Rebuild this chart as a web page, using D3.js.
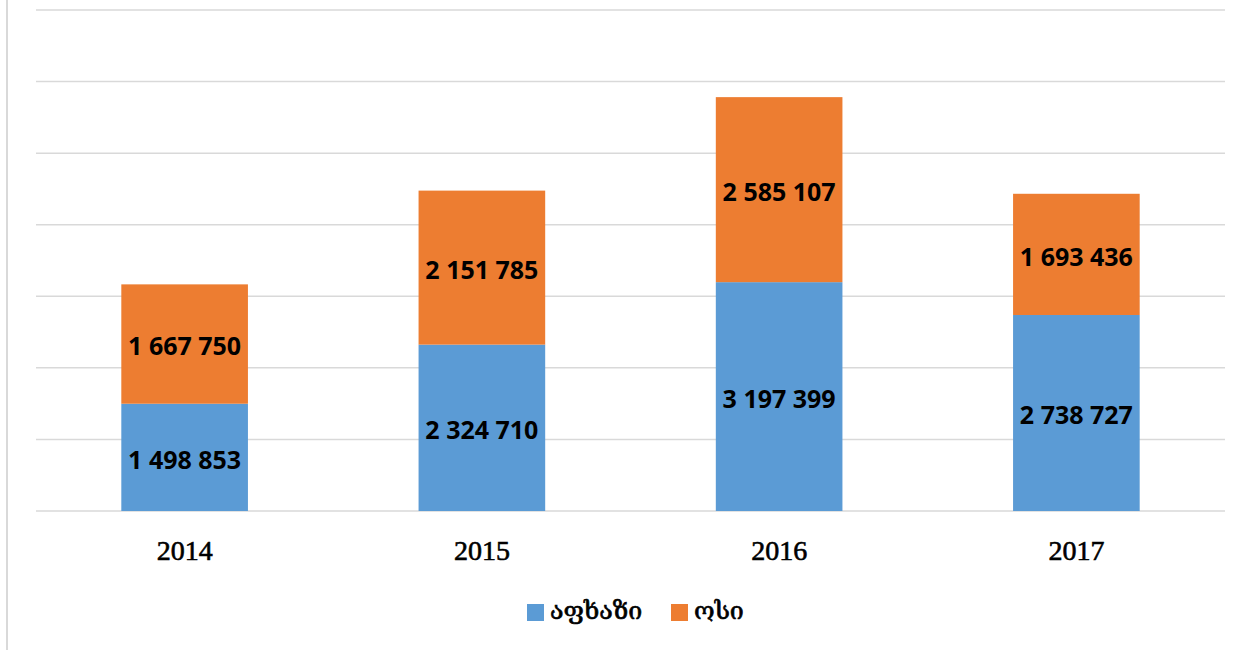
<!DOCTYPE html>
<html>
<head>
    <meta charset="utf-8">
    <title>stacked bars</title>
    <script src="https://d3js.org/d3.v7.min.js"></script>
    <style>
        body { margin: 0; background: #fff; }
    </style>
</head>
<body>
<script>
    // data
    var years = ["2014", "2015", "2016", "2017"];
    var abkhaz = [1498853, 2324710, 3197399, 2738727];
    var ossetian = [1667750, 2151785, 2585107, 1693436];
    var seriesNames = ["აფხაზი", "ოსი"];
    var gridTicks = [0, 1e6, 2e6, 3e6, 4e6, 5e6, 6e6, 7e6];

    var colors = ["#5b9bd5", "#ed7d31"];
    var w = 1253, h = 650;

    var svg = d3.select("body").append("svg")
        .attr("width", w)
        .attr("height", h);

    // left frame line
    svg.append("line")
        .attr("x1", 7).attr("x2", 7)
        .attr("y1", 0).attr("y2", h)
        .attr("stroke", "#d9d9d9")
        .attr("stroke-width", 2);

    var x = d3.scaleBand()
        .domain(years)
        .range([36, 1225])
        .paddingInner(0.574)
        .paddingOuter(0.287);

    var y = d3.scaleLinear()
        .domain([0, 7e6])
        .range([511, 10]);

    // gridlines
    svg.append("g").selectAll("line")
        .data(gridTicks)
        .enter().append("line")
        .attr("x1", 36).attr("x2", 1225)
        .attr("y1", function(d) { return y(d); })
        .attr("y2", function(d) { return y(d); })
        .attr("stroke", "#d9d9d9")
        .attr("stroke-width", 1.5);

    var rows = years.map(function(yr, i) {
        return { year: yr, a: abkhaz[i], o: ossetian[i] };
    });
    var stack = d3.stack().keys(["a", "o"])(rows);

    var layers = svg.append("g").selectAll("g")
        .data(stack)
        .enter().append("g")
        .attr("fill", function(d, i) { return colors[i]; });

    layers.selectAll("rect")
        .data(function(d) { return d; })
        .enter().append("rect")
        .attr("x", function(d) { return x(d.data.year); })
        .attr("y", function(d) { return y(d[1]); })
        .attr("width", x.bandwidth())
        .attr("height", function(d) { return y(d[0]) - y(d[1]); });

    var fmt = function(v) { return d3.format(",")(v).replace(/,/g, " "); };

    layers.selectAll("text")
        .data(function(d) { return d; })
        .enter().append("text")
        .attr("x", function(d) { return x(d.data.year) + x.bandwidth() / 2; })
        .attr("y", function(d) { return (y(d[0]) + y(d[1])) / 2; })
        .attr("dy", "0.45em")
        .attr("text-anchor", "middle")
        .attr("fill", "#000")
        .style("font-family", "'Open Sans', sans-serif")
        .style("font-weight", "bold")
        .style("font-size", "25px")
        .text(function(d) { return fmt(d[1] - d[0]); });

    // category axis labels
    svg.append("g").selectAll("text")
        .data(years)
        .enter().append("text")
        .attr("x", function(d) { return x(d) + x.bandwidth() / 2; })
        .attr("y", 560)
        .attr("text-anchor", "middle")
        .attr("stroke", "#000")
        .attr("stroke-width", 0.6)
        .style("font-family", "'Liberation Serif', serif")
        .style("font-size", "28px")
        .text(function(d) { return d; });

    // legend
    var legendX = [527, 671];
    var legend = svg.append("g").selectAll("g")
        .data(seriesNames)
        .enter().append("g")
        .attr("transform", function(d, i) { return "translate(" + legendX[i] + ",604)"; });
    legend.append("rect")
        .attr("width", 17).attr("height", 17)
        .attr("fill", function(d, i) { return colors[i]; });
    legend.append("text")
        .attr("x", 23)
        .attr("y", 15)
        .attr("stroke", "#000")
        .attr("stroke-width", 0.7)
        .style("font-family", "'DejaVu Serif', 'DejaVu Sans', serif")
        .style("font-size", "25px")
        .text(function(d) { return d; });
</script>
</body>
</html>
